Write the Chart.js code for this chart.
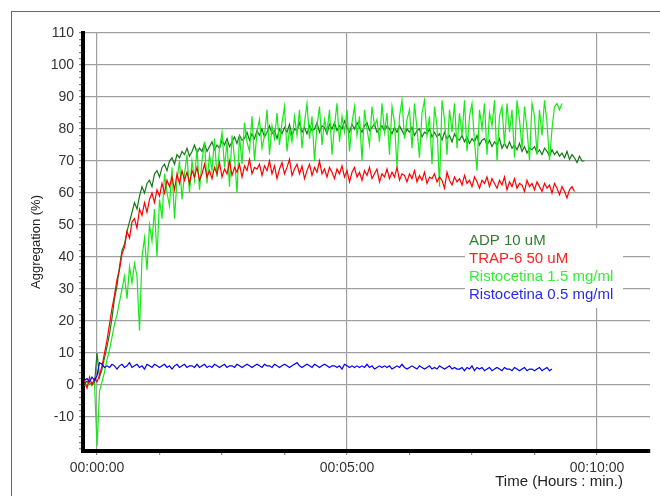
<!DOCTYPE html>
<html>
<head>
<meta charset="utf-8">
<script src="https://cdn.jsdelivr.net/npm/chart.js@4/dist/chart.umd.min.js"></script>
<style>
  html, body { margin: 0; padding: 0; background: #fff; overflow: hidden; }
  #frame { position: absolute; left: 11px; top: 11px; width: 700px; height: 600px; border: 1px solid #666; }
  #chart { position: absolute; left: 0; top: 0; }
</style>
</head>
<body>
<div id="frame"></div>
<canvas id="chart" width="660" height="496"></canvas>
<script>
// time of each sample, seconds from the agonist addition
const timeSec = [
  -15,-12,-9,-6,-3,0,3,6,9,12,
  15,18,21,24,27,30,33,36,39,42,
  45,48,51,54,57,60,63,66,69,72,
  75,78,81,84,87,90,93,96,99,102,
  105,108,111,114,117,120,123,126,129,132,
  135,138,141,144,147,150,153,156,159,162,
  165,168,171,174,177,180,183,186,189,192,
  195,198,201,204,207,210,213,216,219,222,
  225,228,231,234,237,240,243,246,249,252,
  255,258,261,264,267,270,273,276,279,282,
  285,288,291,294,297,300,303,306,309,312,
  315,318,321,324,327,330,333,336,339,342,
  345,348,351,354,357,360,363,366,369,372,
  375,378,381,384,387,390,393,396,399,402,
  405,408,411,414,417,420,423,426,429,432,
  435,438,441,444,447,450,453,456,459,462,
  465,468,471,474,477,480,483,486,489,492,
  495,498,501,504,507,510,513,516,519,522,
  525,528,531,534,537,540,543,546,549,552,
  555,558,561,564,567,570,573,576,579,582,
  585
];

const adp = [
  0.5,1.2,0.2,0.8,0.4,10,2.5,5,8.5,12,
  16,21,27,31,37,42,44,48,51,54,
  57,55,59,62,60,63,64,62,66,67,
  65,68,69,67,70,71,69,72,71,73,
  72,74,71.5,73,75,72.5,74,73,75.5,73,
  74.5,76,73.5,75,74,76.5,75,77,74.5,76,
  77.5,75.5,78,76.5,77,79,76.5,78.5,77,79.5,
  78,80,77.5,79,81,78.5,79.5,77,80,78.5,
  80.5,79,81.5,78,80,79.5,82,79,80.5,78.5,
  81,79.5,80,82,79,81,80.5,78.5,81.5,80,
  82,79.5,81,80,82.5,80.5,79,81.5,80,82,
  80.5,79,81,82,79.5,80.5,81.5,79,80,81,
  79.5,81,80,78.5,80.5,79,81,79.5,78,80,
  79,80.5,78,79.5,80,77.5,79,78.5,80,77.5,
  79,77.5,78.5,76.5,79,77,78,76,78.5,77,
  76.5,78,76,77.5,75.5,77,76,78,75,76.5,
  77,75,76.5,74.5,76,75,77,74,75.5,74,
  76,74,75,73.5,75.5,73,74.5,72.5,74,73.5,
  74.5,72.5,73.5,72,74,73,71.5,73.5,72,73,
  71.5,72.5,71,73,70.5,72,71,69.5,71.5,70,
  70
];

const trap = [
  1.5,-1,2.5,0,2,1,3,6,10,14,
  19,24,28,33,36,41,43,48,46,51,
  52,49,55,53,57,54,58,60,57,61,
  59,63,60,64,62,65,61,66,63,67,
  64,66.5,63,67,65,68,64,66,69,65,
  67,64.5,68,66,69.5,65,67.5,66,70,65.5,
  68,66.5,69,65,68.5,67,70.5,66,68,67.5,
  69,65.5,68.5,67,70,66,68.5,64.5,67.5,69.5,
  66,68,70.5,65.5,67.5,69,66,68.5,64.5,67,
  69,65.5,68,66.5,70,66,67.5,65,68,66.5,
  64.5,67.5,66,68.5,65,67,63.5,66.5,68,65,
  66.5,64,67,65.5,68,64.5,66,67.5,63.5,66,
  65,67.5,64.5,66.5,65,68,64,66,65.5,63.5,
  66,64.5,67,63.5,65.5,64,66.5,63,65,64.5,
  66,63.5,65,64,61.5,66.5,64,62.5,65,63.5,
  64.5,62.5,65.5,63,64,62,65,63.5,61.5,64,
  63,65,62,64.5,63,61.5,64,62.5,65,61,
  63.5,62,64.5,61.5,63,62.5,60.5,64,62,63,
  61,63.5,62,60.5,63,61.5,62.5,60,63,61.5,
  59.5,62,60.5,58.5,61,62,60.5
];

const risto15 = [
  0,-0.5,0.5,0,0.5,-19,-2,1,4,8,
  11,15,19,22,26,30,34,27,37,32,
  38,34,17,40,46,36,50,45,55,40,
  58,52,66,60,56,68,52,64,70,58,
  66,72,60,70,64,74,61,70,76,63,
  72,67,77,65,74,79,68,76,62,78,
  71,60,78,69,82,76,73,84,70,79,
  83,74,78,86,72,81,77,85,75,82,
  87,73,80,76,84,78,86,74,82,88,
  77,84,70,81,87,75,83,79,86,72,
  81,88,76,84,79,86,73,82,87,78,
  84,70,86,80,75,87,81,83,76,88,
  79,85,72,87,82,68,84,89,77,83,
  86,74,88,80,71,85,89,78,84,69,
  87,81,62,89,83,72,86,79,88,74,
  85,78,89,73,84,88,76,67,86,80,
  88,72,85,81,89,70,84,87,75,88,
  79,86,71,89,83,74,87,80,70,88,
  84,72,86,78,89,82,70,80,87,88,
  86,88
];

const risto05 = [
  1.5,2,1,2.5,1.5,3,7,6.5,5.5,6,
  5.5,6.5,6,5,6,6.5,5.5,6,7,5.5,
  6,6.5,5.5,6,5,6.5,6,5.5,6.5,6,
  5.5,6,6.5,5.5,6,5,6,6.5,5.5,6,
  6.5,5.5,6,6,5.5,6.5,5.5,6,6.5,5.5,
  6,5.5,6.5,6,5.5,6,6.5,5.5,6,6,
  5.5,6.5,6,5.5,6,6.5,6,5.5,6,6.5,
  6,5.5,6.5,6,6,5.5,6.5,6,5.5,6,
  6.5,6,5.5,6,6.5,7,6,5.5,6,6.5,
  6,5.5,6.5,6,5.5,6,6.5,6,5.5,6,
  6,5.5,6,5,6.5,6,5.5,6,5.5,6,
  5.5,6,5.5,6.5,5.5,6,5,5.5,6,5.5,
  6,5.5,6,5,5.5,6,5.5,6.5,5.5,5,
  5.5,6,5.5,5,6,5.5,5,5.5,6,5,
  5.5,5,6,5.5,5,5.5,6,5,5.5,5,
  5,5.5,4.5,5.5,5,6,4.5,5.5,5,5.5,
  4.5,5,5.5,4.5,5,5.5,5,4.5,5.5,5,
  5,4.5,5.5,5,4.5,5,5.5,4.5,5,5,
  4.5,5,5.5,4.5,5,5.5,4.5,5
];

const seriesNames = ['ADP 10 uM', 'TRAP-6 50 uM', 'Ristocetina 1.5 mg/ml', 'Ristocetina 0.5 mg/ml'];
const seriesColors = ['#167816', '#ff0000', '#18e818', '#0000f0'];
const legendColors = ['#2f7f2f', '#ff2020', '#33ee33', '#2a2aee'];

const yLabelValues = [-10, 0, 10, 20, 30, 40, 50, 60, 70, 80, 90, 100, 110];
const xLabelValues = [0, 300, 600];
const xTickLabels = ['00:00:00', '00:05:00', '00:10:00'];
const xTickValues = [0, 75, 150, 225, 300, 375, 450, 525, 600];

const toPoints = (values) => values.map((v, i) => ({ x: timeSec[i], y: v }));

const FONT = '"Liberation Sans", Arial, sans-serif';

const overlay = {
    id: 'overlay',
    beforeDatasetsDraw(chart) {
        const ctx = chart.ctx;
        ctx.save();
        // legend box covers the grid
        ctx.fillStyle = '#fff';
        ctx.fillRect(465, 228, 158, 80);
        ctx.font = '15px ' + FONT;
        ctx.textBaseline = 'middle';
        ctx.textAlign = 'left';
        chart.data.datasets.forEach((ds, i) => {
            ctx.fillStyle = legendColors[i];
            ctx.fillText(ds.label, 469, 241 + i * 18);
        });
        ctx.restore();
    },
    afterDraw(chart) {
        const ctx = chart.ctx;
        const area = chart.chartArea;
        ctx.save();
        ctx.fillStyle = '#222';
        ctx.font = '13px ' + FONT;
        ctx.textAlign = 'center';
        ctx.textBaseline = 'middle';
        ctx.translate(36, (area.top + area.bottom) / 2);
        ctx.rotate(-Math.PI / 2);
        ctx.fillText('Aggregation (%)', 0, 0);
        ctx.restore();

        ctx.save();
        ctx.fillStyle = '#222';
        ctx.font = '15px ' + FONT;
        ctx.textAlign = 'right';
        ctx.textBaseline = 'middle';
        ctx.fillText('Time (Hours : min.)', 623, 482);
        ctx.restore();
    }
};

const datasets = [adp, trap, risto15, risto05].map((vals, i) => ({
    label: seriesNames[i],
    data: toPoints(vals),
    borderColor: seriesColors[i],
    borderWidth: 1.2,
    pointRadius: 0,
    tension: 0,
    fill: false,
    order: [3, 1, 2, 0][i]
}));

const chart = new Chart(document.getElementById('chart').getContext('2d'), {
    type: 'line',
    data: { datasets },
    options: {
        responsive: false,
        animation: false,
        devicePixelRatio: 1,
        layout: { padding: { top: 33, right: 10, left: 0, bottom: 0 } },
        plugins: { legend: { display: false }, tooltip: { enabled: false } },
        scales: {
            x: {
                type: 'linear',
                min: -16.8,
                max: 663.6,
                afterFit: (axis) => { axis.height = 45; },
                afterBuildTicks: (axis) => { axis.ticks = xTickValues.map(v => ({ value: v })); },
                ticks: {
                    autoSkip: false,
                    maxRotation: 0,
                    padding: 5,
                    color: '#333',
                    font: { family: FONT, size: 14 },
                    callback: (v) => {
                        const k = xLabelValues.indexOf(v);
                        return k >= 0 ? xTickLabels[k] : '';
                    }
                },
                grid: {
                    color: (c) => (c.tick && xLabelValues.includes(c.tick.value)) ? '#a0a0a0' : 'rgba(0,0,0,0)',
                    lineWidth: 1.2,
                    drawTicks: true,
                    tickLength: 4,
                    tickColor: '#888'
                },
                border: { display: true, color: '#000', width: 4 }
            },
            y: {
                min: -20.6,
                max: 110,
                afterFit: (axis) => { axis.width = 83; },
                afterBuildTicks: (axis) => {
                    const t = [];
                    for (let v = -20; v <= 110; v += 2) t.push({ value: v });
                    axis.ticks = t;
                },
                ticks: {
                    autoSkip: false,
                    padding: 5,
                    color: '#333',
                    font: { family: FONT, size: 14 },
                    callback: (v) => yLabelValues.includes(v) ? String(v) : ''
                },
                grid: {
                    color: (c) => (c.tick && yLabelValues.includes(c.tick.value)) ? '#a0a0a0' : 'rgba(0,0,0,0)',
                    lineWidth: 1.2,
                    drawTicks: true,
                    tickLength: 4,
                    tickColor: '#888'
                },
                border: { display: true, color: '#000', width: 4 }
            }
        }
    },
    plugins: [overlay]
});
</script>
</body>
</html>
